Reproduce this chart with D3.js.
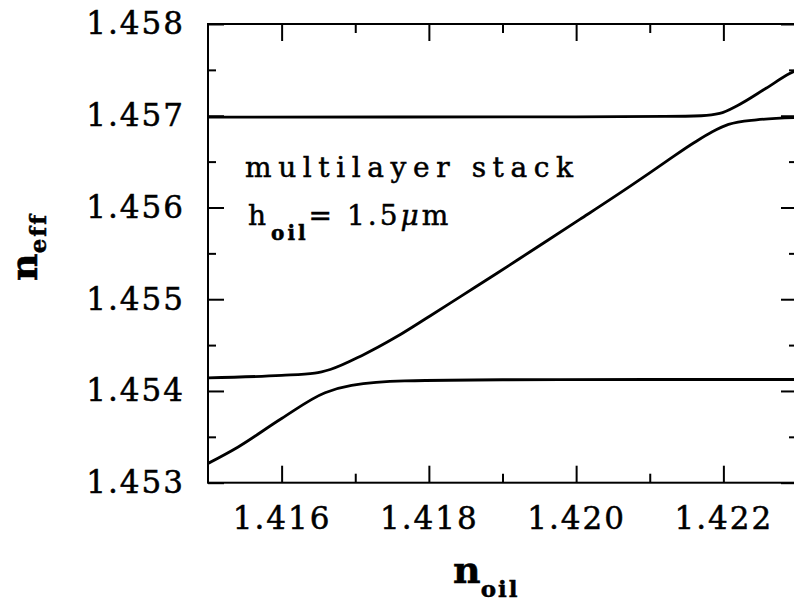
<!DOCTYPE html>
<html>
<head>
<meta charset="utf-8">
<script src="https://cdn.jsdelivr.net/npm/d3@7"></script>
<style>
  body { margin: 0; background: #fff; }
  .chart text { font-family: 'DejaVu Serif', serif; fill: #000; stroke: #000; stroke-width: 0.5px; }
  .tick line { stroke: #000; stroke-width: 2; }
  .tick text { font-size: 31px; letter-spacing: 2px; }
</style>
</head>
<body>
<div class="chart"></div>
<script>
// mode that starts low and flattens near 1.4541
const nOilLower = [1.415, 1.41541, 1.416, 1.41659, 1.41695, 1.41767, 1.419, 1.421, 1.423];
const nEffLower = [1.45321, 1.45339, 1.4537, 1.45398, 1.45406, 1.45411, 1.454122, 1.454125, 1.454125];

// mode that crosses diagonally between the two anticrossings
const nOilMiddle = [1.415, 1.416, 1.41645, 1.41666, 1.4171, 1.41756, 1.41801, 1.41846, 1.41892,
  1.41937, 1.42005, 1.42073, 1.42123, 1.4216, 1.42185, 1.42207, 1.42245, 1.423];
const nEffMiddle = [1.454143, 1.45417, 1.454194, 1.454234, 1.45439, 1.45459, 1.454815, 1.455045, 1.45528,
  1.455515, 1.45587, 1.45623, 1.456505, 1.456705, 1.456825, 1.456905, 1.456955, 1.45698];

// mode that stays near 1.457 and then rises
const nOilUpper = [1.415, 1.42, 1.4212, 1.4217, 1.42195, 1.4222, 1.42258, 1.4229, 1.423];
const nEffUpper = [1.456985, 1.456988, 1.456992, 1.457, 1.457025, 1.457115, 1.4573, 1.45746, 1.4575];

const xMajor = [1.416, 1.418, 1.420, 1.422];
const xMinor = [1.417, 1.419, 1.421];
const yMajor = [1.453, 1.454, 1.455, 1.456, 1.457, 1.458];
const yMinor = [1.4535, 1.4545, 1.4555, 1.4565, 1.4575];

const width = 794;
const height = 606;
const plotLeft = 208, plotRight = 797, plotTop = 24, plotBottom = 482.7;

const svg = d3.select('.chart')
  .append('svg')
  .attr('width', width)
  .attr('height', height);

const x = d3.scaleLinear().domain([1.415, 1.423]).range([plotLeft, plotRight]);
const y = d3.scaleLinear().domain([1.453, 1.458]).range([plotBottom, plotTop]);
const fmt = d3.format('.3f');

svg.append('defs').append('clipPath').attr('id', 'plot')
  .append('rect')
  .attr('x', plotLeft).attr('y', plotTop)
  .attr('width', plotRight - plotLeft).attr('height', plotBottom - plotTop);

// axes with inward ticks on all four sides
const clean = g => g.select('.domain').remove();

svg.append('g').attr('transform', `translate(0,${plotBottom})`)
  .call(d3.axisBottom(x).tickValues(xMajor).tickSize(-17).tickPadding(24).tickFormat(fmt)).call(clean);
svg.append('g').attr('transform', `translate(0,${plotBottom})`)
  .call(d3.axisBottom(x).tickValues(xMinor).tickSize(-9).tickFormat('')).call(clean);
svg.append('g').attr('transform', `translate(0,${plotTop})`)
  .call(d3.axisTop(x).tickValues(xMajor).tickSize(-17).tickFormat('')).call(clean);
svg.append('g').attr('transform', `translate(0,${plotTop})`)
  .call(d3.axisTop(x).tickValues(xMinor).tickSize(-9).tickFormat('')).call(clean);

svg.append('g').attr('transform', `translate(${plotLeft},0)`)
  .call(d3.axisLeft(y).tickValues(yMajor).tickSize(-16).tickPadding(23).tickFormat(fmt)).call(clean);
svg.append('g').attr('transform', `translate(${plotLeft},0)`)
  .call(d3.axisLeft(y).tickValues(yMinor).tickSize(-8).tickFormat('')).call(clean);
svg.append('g').attr('transform', `translate(${plotRight},0)`)
  .call(d3.axisRight(y).tickValues(yMajor).tickSize(-16).tickFormat('')).call(clean);
svg.append('g').attr('transform', `translate(${plotRight},0)`)
  .call(d3.axisRight(y).tickValues(yMinor).tickSize(-8).tickFormat('')).call(clean);

svg.append('rect')
  .attr('x', plotLeft).attr('y', plotTop)
  .attr('width', plotRight - plotLeft).attr('height', plotBottom - plotTop)
  .attr('fill', 'none').attr('stroke', '#000').attr('stroke-width', 2);

const line = d3.line()
  .x(d => x(d[0]))
  .y(d => y(d[1]))
  .curve(d3.curveMonotoneX);

const modes = [
  d3.zip(nOilLower, nEffLower),
  d3.zip(nOilMiddle, nEffMiddle),
  d3.zip(nOilUpper, nEffUpper),
];

svg.append('g').attr('clip-path', 'url(#plot)')
  .selectAll('path')
  .data(modes)
  .enter()
  .append('path')
  .attr('d', line)
  .attr('fill', 'none')
  .attr('stroke', '#000')
  .attr('stroke-width', 2.8)
  .attr('stroke-linejoin', 'round');

// annotation
svg.append('text')
  .attr('x', 245).attr('y', 177)
  .attr('font-size', 28)
  .attr('textLength', 328)
  .attr('lengthAdjust', 'spacing')
  .text('multilayer stack');

const h = svg.append('text')
  .attr('x', 248).attr('y', 225)
  .attr('font-size', 28)
  .attr('letter-spacing', 3);
h.append('tspan').text('h');
h.append('tspan').attr('font-size', 20).attr('dy', 15).attr('dx', 2).attr('font-weight', 'bold').text('oil');
h.append('tspan').attr('dy', -15).text('= 1.5');
h.append('tspan').attr('font-style', 'italic').text('μ');
h.append('tspan').text('m');

// axis titles
const xt = svg.append('text')
  .attr('x', 453).attr('y', 583)
  .attr('font-size', 38)
  .attr('font-weight', 'bold');
xt.append('tspan').text('n');
xt.append('tspan').attr('font-size', 23).attr('dy', 14).attr('letter-spacing', 2).text('oil');

const yt = svg.append('text')
  .attr('transform', 'translate(37,281) rotate(-90)')
  .attr('font-size', 38)
  .attr('font-weight', 'bold');
yt.append('tspan').text('n');
yt.append('tspan').attr('font-size', 23).attr('dy', 9).attr('letter-spacing', 2).text('eff');
</script>
</body>
</html>
